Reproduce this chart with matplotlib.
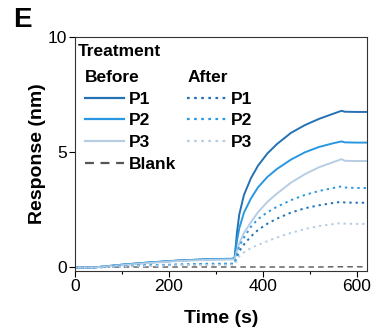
import numpy as np
import matplotlib
matplotlib.use("Agg")
import matplotlib.pyplot as plt

plt.rcParams['font.family'] = ['Liberation Sans', 'DejaVu Sans']

# time points (s)
time = [0, 40, 100, 160, 220, 280, 335, 340, 345, 350, 360, 375, 390, 410,
        430, 460, 490, 520, 550, 568, 575, 600, 620]

# responses (nm)
before_p1 = [0, 0, 0.12, 0.22, 0.30, 0.35, 0.37, 0.40, 1.50, 2.30, 3.15, 3.88, 4.42,
             4.95, 5.35, 5.84, 6.18, 6.45, 6.67, 6.80, 6.76, 6.75, 6.75]
before_p2 = [0, 0, 0.12, 0.22, 0.30, 0.36, 0.38, 0.40, 1.15, 1.70, 2.38, 3.00, 3.48,
             3.93, 4.27, 4.68, 5.00, 5.23, 5.39, 5.47, 5.43, 5.42, 5.42]
before_p3 = [0, 0, 0.10, 0.20, 0.28, 0.33, 0.35, 0.35, 0.70, 1.05, 1.50, 1.97, 2.40,
             2.85, 3.20, 3.68, 4.05, 4.35, 4.57, 4.70, 4.63, 4.62, 4.62]
after_p1 = [0, 0, 0.05, 0.09, 0.12, 0.14, 0.15, 0.15, 0.45, 0.71, 1.00, 1.35, 1.63,
            1.90, 2.12, 2.38, 2.57, 2.70, 2.80, 2.85, 2.82, 2.81, 2.81]
after_p2 = [0, 0, 0.06, 0.10, 0.13, 0.16, 0.17, 0.17, 0.55, 0.92, 1.30, 1.77, 2.10,
            2.40, 2.63, 2.92, 3.15, 3.32, 3.45, 3.52, 3.47, 3.45, 3.45]
after_p3 = [0, 0, 0.04, 0.07, 0.10, 0.11, 0.12, 0.12, 0.30, 0.49, 0.65, 0.85, 0.98,
            1.14, 1.30, 1.50, 1.67, 1.80, 1.88, 1.93, 1.90, 1.89, 1.89]
blank = [0.0, 0.01, 0.02, 0.02, 0.02, 0.02, 0.02, 0.02, 0.02, 0.02, 0.02, 0.02, 0.02,
         0.02, 0.02, 0.02, 0.02, 0.02, 0.03, 0.03, 0.03, 0.03, 0.03]

labels = ['P1', 'P2', 'P3']
colors = ['#2471b3', '#2a98e0', '#b7cde4']

fig = plt.figure(figsize=(3.87, 3.28), dpi=100)
ax = fig.add_axes([0.194, 0.174, 0.754, 0.713])

before = [before_p1, before_p2, before_p3]
after = [after_p1, after_p2, after_p3]

hb = []
for y, c in zip(before, colors):
    l, = ax.plot(time, y, color=c, lw=1.4)
    hb.append(l)
ha = []
for y, c in zip(after, colors):
    l, = ax.plot(time, y, color=c, lw=1.4, linestyle=(0, (1.2, 2.0)))
    ha.append(l)
lb, = ax.plot(time, blank, color='#555555', lw=1.0, linestyle=(0, (4, 3)), zorder=1)

ax.set_xlim(0, 622)
ax.set_ylim(-0.15, 10)
ax.set_xticks([0, 200, 400, 600])
ax.set_xticks([100, 300, 500], minor=True)
ax.set_yticks([0, 5, 10])
ax.tick_params(direction='out', length=4, width=0.8, labelsize=12.5, pad=2)
ax.tick_params(which='minor', direction='out', length=2.5, width=0.8)
for s in ax.spines.values():
    s.set_linewidth(0.8)
    s.set_color('#333333')

ax.set_xlabel('Time (s)', fontsize=14, fontweight='bold', labelpad=11)
ax.set_ylabel('Response (nm)', fontsize=14, fontweight='bold', labelpad=1)

fig.text(0.034, 0.978, 'E', fontsize=20, fontweight='bold', va='top', ha='left')

# legend
ax.text(0.01, 0.94, 'Treatment', transform=ax.transAxes, fontsize=12.5,
        fontweight='bold', va='center', ha='left')
prop = {'size': 12.5, 'weight': 'bold'}
common = dict(loc='upper left', frameon=False, prop=prop, handlelength=2.25,
              handletextpad=0.25, labelspacing=0.37, borderpad=0, borderaxespad=0,
              alignment='left', title_fontproperties=prop)
leg1 = ax.legend(handles=hb + [lb], labels=labels + ['Blank'], title='Before',
                 bbox_to_anchor=(0.034, 0.858), **common)
for h in leg1.legend_handles:
    h.set_linewidth(1.6)
ax.add_artist(leg1)
leg2 = ax.legend(handles=ha, labels=labels, title='After',
                 bbox_to_anchor=(0.384, 0.858), **common)
for h in leg2.legend_handles:
    h.set_linewidth(1.6)

fig.savefig('out.png', dpi=100)
